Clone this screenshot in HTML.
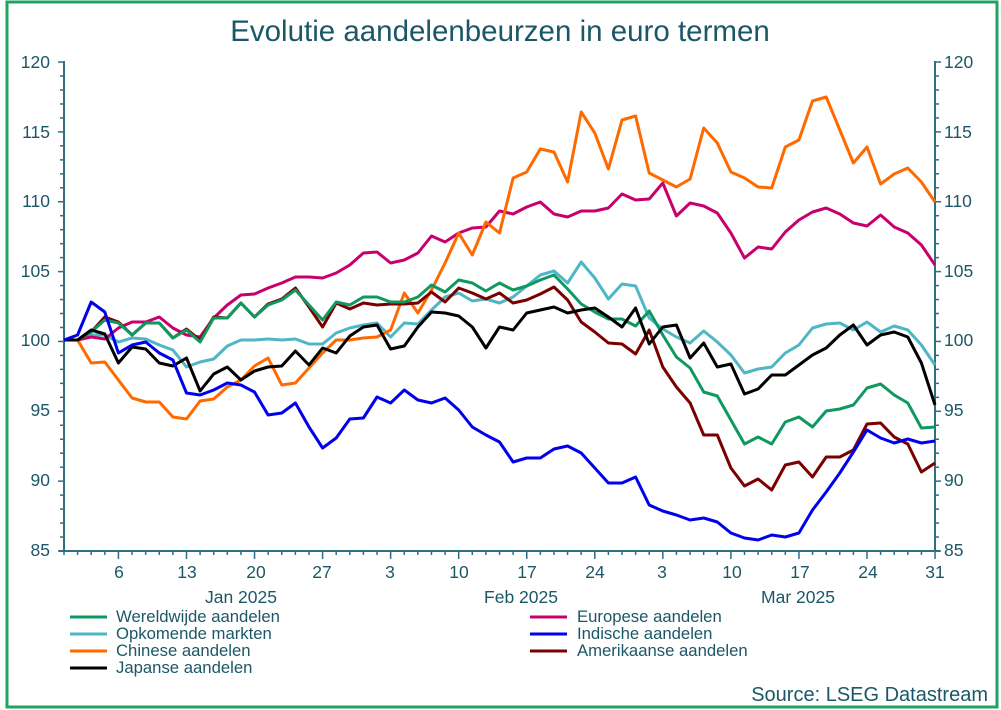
<!DOCTYPE html>
<html><head><meta charset="utf-8"><style>
body{margin:0;background:#fff;}
svg{display:block;font-family:"Liberation Sans",sans-serif;}
</style></head><body>
<svg width="1001" height="710" viewBox="0 0 1001 710" xmlns="http://www.w3.org/2000/svg">
<rect x="0" y="0" width="1001" height="710" fill="#fff"/>
<rect x="7" y="2" width="990" height="705" fill="none" stroke="#1ea362" stroke-width="3"/>
<text x="500" y="41" text-anchor="middle" font-size="29.5" fill="#1b5766">Evolutie aandelenbeurzen in euro termen</text>
<g id="axes" stroke="#2e6f80" stroke-width="2" fill="none">
<line x1="64" y1="61" x2="64" y2="551"/>
<line x1="935" y1="61" x2="935" y2="551"/>
<line x1="59" y1="551" x2="940" y2="551"/>
</g>
<g id="yt" stroke="#2e6f80" stroke-width="1.5"></g>
<g id="xt" stroke="#2e6f80" stroke-width="1.5"></g>
<g font-size="17.5" fill="#1b5766">
<g text-anchor="end">
<text x="50" y="68">120</text><text x="50" y="138">115</text><text x="50" y="207">110</text><text x="50" y="277">105</text><text x="50" y="346">100</text><text x="50" y="416">95</text><text x="50" y="486">90</text><text x="50" y="556">85</text>
</g>
<g text-anchor="start">
<text x="944" y="68">120</text><text x="944" y="138">115</text><text x="944" y="207">110</text><text x="944" y="277">105</text><text x="944" y="346">100</text><text x="944" y="416">95</text><text x="944" y="486">90</text><text x="944" y="556">85</text>
</g>
<g text-anchor="middle">
<text x="119" y="578">6</text><text x="187" y="578">13</text><text x="256" y="578">20</text><text x="322" y="578">27</text><text x="390" y="578">3</text><text x="459" y="578">10</text><text x="527" y="578">17</text><text x="595" y="578">24</text><text x="662" y="578">3</text><text x="732" y="578">10</text><text x="800" y="578">17</text><text x="868" y="578">24</text><text x="935" y="578">31</text>
<text x="241" y="603">Jan 2025</text><text x="521" y="603">Feb 2025</text><text x="798" y="603">Mar 2025</text>
</g>
</g>
<g fill="none" stroke-width="3" stroke-linejoin="round" id="series"></g>
<g font-size="16.7" fill="#1b5766">
<line x1="70" y1="617" x2="107" y2="617" stroke="#0f9960" stroke-width="3"/><text x="116" y="622">Wereldwijde aandelen</text>
<line x1="70" y1="634" x2="107" y2="634" stroke="#4fb6c6" stroke-width="3"/><text x="116" y="639">Opkomende markten</text>
<line x1="70" y1="651" x2="107" y2="651" stroke="#ff6a00" stroke-width="3"/><text x="116" y="656">Chinese aandelen</text>
<line x1="70" y1="668" x2="107" y2="668" stroke="#000" stroke-width="3"/><text x="116" y="673">Japanse aandelen</text>
<line x1="530" y1="617" x2="567" y2="617" stroke="#c8006e" stroke-width="3"/><text x="577" y="622">Europese aandelen</text>
<line x1="530" y1="634" x2="567" y2="634" stroke="#0000ee" stroke-width="3"/><text x="577" y="639">Indische aandelen</text>
<line x1="530" y1="651" x2="567" y2="651" stroke="#7a0000" stroke-width="3"/><text x="577" y="656">Amerikaanse aandelen</text>
<text x="988" y="701" text-anchor="end" font-size="20">Source: LSEG Datastream</text>
</g>
<script>
(function(){
var ns="http://www.w3.org/2000/svg";
function el(p,t,a){var e=document.createElementNS(ns,t);for(var k in a)e.setAttribute(k,a[k]);p.appendChild(e);return e;}
var yt=document.getElementById('yt');
for(var v=85;v<=120;v++){var y=551-(v-85)*13.97;var L=(v%5==0)?6:4;
el(yt,'line',{x1:64-L,y1:y,x2:64,y2:y});el(yt,'line',{x1:935,y1:y,x2:935+L,y2:y});}
var xt=document.getElementById('xt');
var maj=[4,9,14,19,24,29,34,39,44,49,54,59,64];
for(var i=0;i<65;i++){var x=64+i*13.61;var L=maj.indexOf(i)>=0?8:4;el(xt,'line',{x1:x,y1:551,x2:x,y2:551+L});}
var S=[
["#4fb6c6",[340,340,335,335,342,338,339,345,350,367,362,359,346,340,340,339,340,339,344,344,333,328,325,323,337,323,324,310,297,293,301,299,303,297,286,275,271,283,262,278,299,284,286,318,329,337,343,331,342,355,373,369,367,353,345,328,324,323,330,322,332,326,330,345,365]],
["#c8006e",[340,340,337,339,328,322,322,317,328,335,337,318,305,295,294,288,283,277,277,278,273,265,253,252,263,260,253,236,242,233,228,227,211,214,207,202,214,217,211,211,208,194,200,199,183,216,203,206,213,233,258,247,249,232,220,212,208,214,223,226,215,227,233,245,265]],
["#ff6a00",[340,340,363,362,380,398,402,402,417,419,401,399,387,380,366,358,385,383,368,353,340,340,338,337,330,293,313,290,263,233,255,222,233,178,172,149,152,182,112,133,169,120,116,173,180,187,179,128,143,172,178,187,188,147,140,101,97,130,163,147,184,174,168,182,202]],
["#7a0000",[340,340,332,317,322,335,323,323,338,329,340,317,318,303,317,304,299,288,307,327,303,309,303,305,304,304,303,292,302,288,293,299,293,303,300,294,287,300,322,332,343,344,354,330,367,387,403,435,435,468,486,479,490,465,462,477,457,457,450,424,423,437,444,472,463]],
["#0f9960",[340,340,332,320,323,335,323,323,338,330,342,318,318,303,317,305,300,290,305,320,302,305,297,297,302,302,297,285,292,280,283,291,283,290,286,280,275,289,304,312,319,319,326,311,335,357,368,392,396,420,444,437,444,422,417,427,411,409,405,388,384,395,403,428,427]],
["#000000",[340,340,330,334,363,347,349,363,366,358,391,374,367,380,371,367,366,351,365,348,353,336,327,325,349,346,327,312,313,316,327,348,327,330,313,310,307,313,310,308,317,327,308,344,327,325,358,343,367,364,394,389,375,375,365,355,348,335,325,345,335,332,337,363,405]],
["#0000ee",[340,335,302,312,353,345,342,353,360,393,395,390,383,385,392,415,413,403,427,448,438,419,418,397,403,390,400,403,398,410,427,435,442,462,458,458,449,446,453,468,483,483,477,505,511,515,520,518,522,533,538,540,535,537,533,510,492,473,452,430,438,443,439,443,441]]
];
var g=document.getElementById('series');
S.forEach(function(s){var pts=s[1].map(function(y,i){return (64+i*13.61).toFixed(1)+','+y;}).join(' ');
el(g,'polyline',{points:pts,stroke:s[0]});});
})();
</script>
</svg>
</body></html>
